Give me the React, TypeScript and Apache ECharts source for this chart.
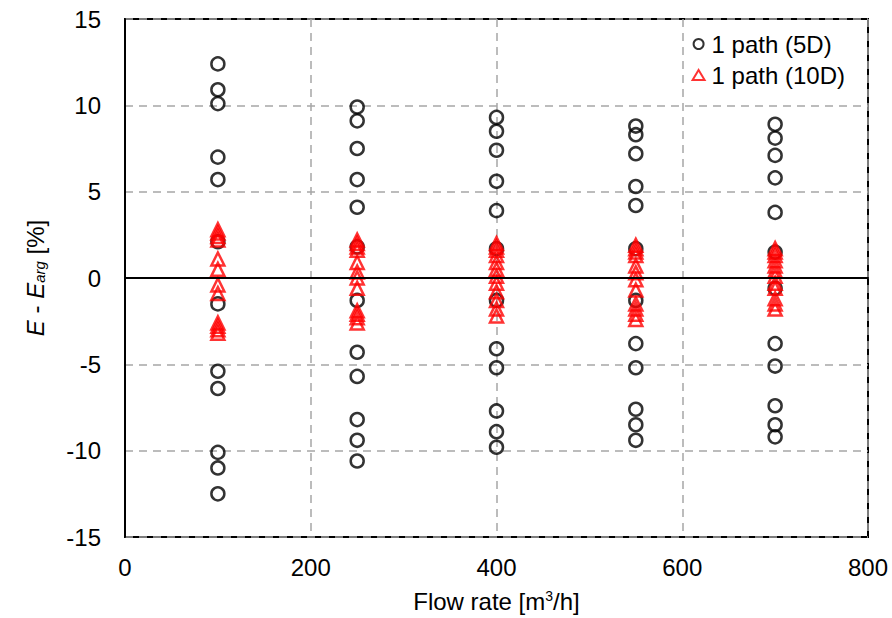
import React, { useEffect, useRef } from "react";
import * as echarts from "echarts";

const flowRates = [100, 250, 400, 550, 700];

// 1 path (5D) — deviation values per flow rate
const path5D_100 = [12.4, 10.9, 10.1, 7.0, 5.7, 2.1, -1.5, -5.4, -6.4, -10.1, -11.0, -12.5];
const path5D_250 = [9.9, 9.1, 7.5, 5.7, 4.1, 1.8, -1.3, -4.3, -5.7, -8.2, -9.4, -10.6];
const path5D_400 = [9.3, 8.5, 7.4, 5.6, 3.9, 1.7, -1.3, -4.1, -5.2, -7.7, -8.9, -9.8];
const path5D_550 = [8.8, 8.3, 7.2, 5.3, 4.2, 1.7, -1.3, -3.8, -5.2, -7.6, -8.5, -9.4];
const path5D_700 = [8.9, 8.1, 7.1, 5.8, 3.8, 1.5, -0.6, -3.8, -5.1, -7.4, -8.5, -9.2];

// 1 path (10D)
const path10D_100 = [2.8, 2.6, 2.4, 2.2, 1.1, 0.5, -0.4, -0.9, -2.6, -2.8, -3.0, -3.2];
const path10D_250 = [2.2, 2.0, 1.8, 1.6, 0.9, 0.35, 0.0, -0.6, -1.9, -2.1, -2.3, -2.6];
const path10D_400 = [2.0, 1.8, 1.6, 1.3, 0.9, 0.5, 0.1, -0.3, -0.8, -1.3, -1.8, -2.2];
const path10D_550 = [1.9, 1.7, 1.5, 1.3, 0.7, 0.3, -0.1, -0.7, -1.5, -1.8, -2.1, -2.4];
const path10D_700 = [1.7, 1.5, 1.3, 1.0, 0.7, 0.4, 0.1, -0.3, -0.6, -1.2, -1.5, -1.8];

const xTicks = [0, 200, 400, 600, 800];
const yTicks = [-15, -10, -5, 0, 5, 10, 15];

const path5D = [path5D_100, path5D_250, path5D_400, path5D_550, path5D_700];
const path10D = [path10D_100, path10D_250, path10D_400, path10D_550, path10D_700];

function toPairs(groups: number[][]) {
  const out: number[][] = [];
  groups.forEach((vals, i) => vals.forEach((v) => out.push([flowRates[i], v])));
  return out;
}

const FONT = "Liberation Sans, Arial, sans-serif";

export default function App() {
  const ref = useRef<HTMLDivElement>(null);
  useEffect(() => {
    if (!ref.current) return;
    const chart = echarts.init(ref.current, undefined, { renderer: "svg" });
    const splitLine = {
      show: true,
      lineStyle: { color: "#a6a6a6", width: 1.5, type: [8, 6] as any },
    };
    chart.setOption({
      animation: false,
      backgroundColor: "#ffffff",
      textStyle: { fontFamily: FONT },
      grid: {
        left: 125,
        right: 24,
        top: 19,
        bottom: 81,
        show: true,
        borderColor: "#000",
        borderWidth: 2,
        backgroundColor: "transparent",
      },
      legend: {
        right: 42,
        top: 27,
        orient: "vertical",
        itemGap: 7,
        itemWidth: 12,
        itemHeight: 10,
        textStyle: { fontSize: 24, color: "#000", fontFamily: FONT, padding: [0, 0, 0, 2] },
        data: [
          { name: "1 path (5D)", icon: "circle", itemStyle: { color: "transparent", borderColor: "#000", borderWidth: 2 } },
          { name: "1 path (10D)", icon: "triangle", itemStyle: { color: "transparent", borderColor: "#ff0000", borderWidth: 2 } },
        ],
      },
      xAxis: {
        type: "value",
        min: xTicks[0],
        max: xTicks[xTicks.length - 1],
        interval: 200,
        name: "Flow rate [m{sup|3}/h]",
        nameLocation: "middle",
        nameGap: 52,
        nameTextStyle: {
          fontSize: 24,
          color: "#000",
          fontFamily: FONT,
          rich: { sup: { fontSize: 14, verticalAlign: "top", color: "#000", fontFamily: FONT } },
        },
        axisLine: { show: true, lineStyle: { color: "#000", width: 2 } },
        axisTick: { show: false },
        axisLabel: { fontSize: 24, color: "#000", margin: 18, fontFamily: FONT },
        splitLine,
      },
      yAxis: {
        type: "value",
        min: yTicks[0],
        max: yTicks[yTicks.length - 1],
        interval: 5,
        name: "{i|E} - {i|E}{sub|arg} [%]",
        nameLocation: "middle",
        nameRotate: 90,
        nameGap: 78,
        nameTextStyle: {
          fontSize: 24,
          color: "#000",
          fontFamily: FONT,
          rich: {
            i: { fontStyle: "italic", fontSize: 24, color: "#000", fontFamily: FONT },
            sub: { fontStyle: "italic", fontSize: 15, verticalAlign: "bottom", color: "#000", fontFamily: FONT, padding: [8, 0, 0, 0] },
          },
        },
        axisLine: { show: true, lineStyle: { color: "#000", width: 2 } },
        axisTick: { show: false },
        axisLabel: { fontSize: 24, color: "#000", margin: 24, fontFamily: FONT },
        splitLine,
      },
      series: [
        {
          name: "1 path (5D)",
          type: "scatter",
          symbol: "circle",
          symbolSize: 13,
          itemStyle: { color: "transparent", borderColor: "#000", borderWidth: 2.5 },
          data: toPairs(path5D),
          markLine: {
            silent: true,
            symbol: "none",
            label: { show: false },
            lineStyle: { color: "#000", width: 2, type: "solid" },
            data: [{ yAxis: 0 }],
          },
          z: 3,
        },
        {
          name: "1 path (10D)",
          type: "scatter",
          symbol: "triangle",
          symbolSize: 13,
          itemStyle: { color: "transparent", borderColor: "#ff0000", borderWidth: 2.5 },
          data: toPairs(path10D),
          z: 4,
        },
      ],
    });
    return () => chart.dispose();
  }, []);
  return (
    <div
      ref={ref}
      style={{ position: "fixed", left: 0, top: 0, width: 892, height: 618, background: "#fff" }}
    />
  );
}
